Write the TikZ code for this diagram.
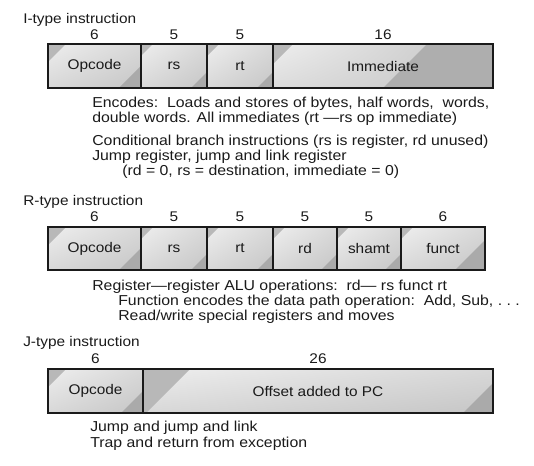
\documentclass[tikz,border=0pt]{standalone}
\usepackage{fontspec}
\setmainfont{Liberation Sans}[FakeStretch=1.1]
\usetikzlibrary{shadings}
\definecolor{fieldlight}{HTML}{EEEEEE}
\definecolor{fieldmid}{HTML}{D8D8D8}
\definecolor{fielddark}{HTML}{C6C6C6}
\definecolor{wedgeA}{HTML}{B8B8B8}
\definecolor{wedgeB}{HTML}{AAAAAA}
\definecolor{immlight}{HTML}{DCDCDC}
\definecolor{immmid}{HTML}{C4C4C4}
\definecolor{inkcol}{HTML}{1A1A1A}
\begin{document}
\begin{tikzpicture}[x=0.75pt,y=-0.75pt,
  every node/.style={font=\fontsize{10.5}{11.25}\selectfont, text=inkcol, inner sep=0pt},
  lbl/.style={anchor=west, font=\fontsize{10.8}{11.25}\selectfont},
  ttl/.style={anchor=west},
  num/.style={anchor=center},
  fieldbox/.style n args={2}{draw=inkcol, line width=1pt, inner sep=0pt,
    path picture={
      \shade[upper left=fieldlight, lower right=fielddark, upper right=fieldmid, lower left=fieldmid]
        (path picture bounding box.south west) rectangle (path picture bounding box.north east);
      \fill[wedgeA] (path picture bounding box.north west) -- ++(#1,0) -- ++(-#1,#1) -- cycle;
      \fill[wedgeB] (path picture bounding box.south east) -- ++(-#2,0) -- ++(#2,-#2) -- cycle;
    }},
  darkfield/.style n args={2}{draw=inkcol, line width=1pt, inner sep=0pt,
    path picture={
      \shade[upper left=fieldlight, lower right=immmid, upper right=immmid, lower left=immlight]
        (path picture bounding box.south west) rectangle (path picture bounding box.north east);
      \fill[wedgeA] (path picture bounding box.north west) -- ++(#1,0) -- ++(-#1,#1) -- cycle;
      \fill[wedgeB!95!white] (path picture bounding box.south east) -- ++(-#2,0) -- ++(#2,-#2) -- cycle;
    }},
  hI/.style={minimum height=33pt},
  hR/.style={minimum height=32.25pt}
]
\useasboundingbox (0,0) rectangle (534,466);

% ---------------- I-type ----------------
\node[ttl] (ititle) at (23,20) {I-type instruction};
\node[num] (in1) at (94.5,35) {6};
\node[num] (in2) at (174,35) {5};
\node[num] (in3) at (240,35) {5};
\node[num] (in4) at (383,35) {16};
\node[fieldbox={18}{22}, hI, minimum width=69.75pt] (iop) at (94.5,66) {Opcode};
\node[fieldbox={12}{16}, hI, minimum width=49.5pt] (irs) at (174,66) {rs};
\node[fieldbox={12}{16}, hI, minimum width=49.5pt] (irt) at (240,66) {rt};
\node[darkfield={20}{110}, hI, minimum width=165pt] (iimm) at (383,66) {Immediate};

\node[lbl] (it1) at (92,104) {Encodes:\ \ Loads and stores of bytes, half words,\ \ words,};
\node[lbl] (it2) at (92,119) {double words. All immediates (rt —rs op immediate)};
\node[lbl] (it3) at (92,142) {Conditional branch instructions (rs is register, rd unused)};
\node[lbl] (it4) at (92,157) {Jump register, jump and link register};
\node[lbl] (it5) at (122,172) {(rd = 0, rs = destination, immediate = 0)};

% ---------------- R-type ----------------
\node[ttl] (rtitle) at (23,202) {R-type instruction};
\node[num] (rn1) at (94.5,217) {6};
\node[num] (rn2) at (174,217) {5};
\node[num] (rn3) at (240,217) {5};
\node[num] (rn4) at (305,217) {5};
\node[num] (rn5) at (369,217) {5};
\node[num] (rn6) at (443,217) {6};
\node[fieldbox={18}{22}, hR, minimum width=69.75pt] (rop) at (94.5,248.5) {Opcode};
\node[fieldbox={12}{16}, hR, minimum width=49.5pt] (rrs) at (174,248.5) {rs};
\node[fieldbox={12}{16}, hR, minimum width=49.5pt] (rrt) at (240,248.5) {rt};
\node[fieldbox={12}{16}, hR, minimum width=48pt] (rrd) at (305,248.5) {rd};
\node[fieldbox={12}{16}, hR, minimum width=48pt] (rsh) at (369,248.5) {shamt};
\node[fieldbox={12}{30}, hR, minimum width=63pt] (rfn) at (443,248.5) {funct};

\node[lbl] (rt1) at (92,287) {Register—register ALU operations:\ \ rd— rs funct rt};
\node[lbl] (rt2) at (118,302) {Function encodes the data path operation:\ \ Add, Sub, .\ .\ .};
\node[lbl] (rt3) at (118,317) {Read/write special registers and moves};

% ---------------- J-type ----------------
\node[ttl] (jtitle) at (23,343) {J-type instruction};
\node[num] (jn1) at (95.5,359) {6};
\node[num] (jn2) at (318,359) {26};
\node[fieldbox={18}{22}, hI, minimum width=71.25pt] (jop) at (95.5,391) {Opcode};
\node[fieldbox={47}{30}, hI, minimum width=262.5pt] (joff) at (318,391) {Offset added to PC};

\node[lbl] (jt1) at (90,428) {Jump and jump and link};
\node[lbl] (jt2) at (90,444) {Trap and return from exception};
\end{tikzpicture}
\end{document}
